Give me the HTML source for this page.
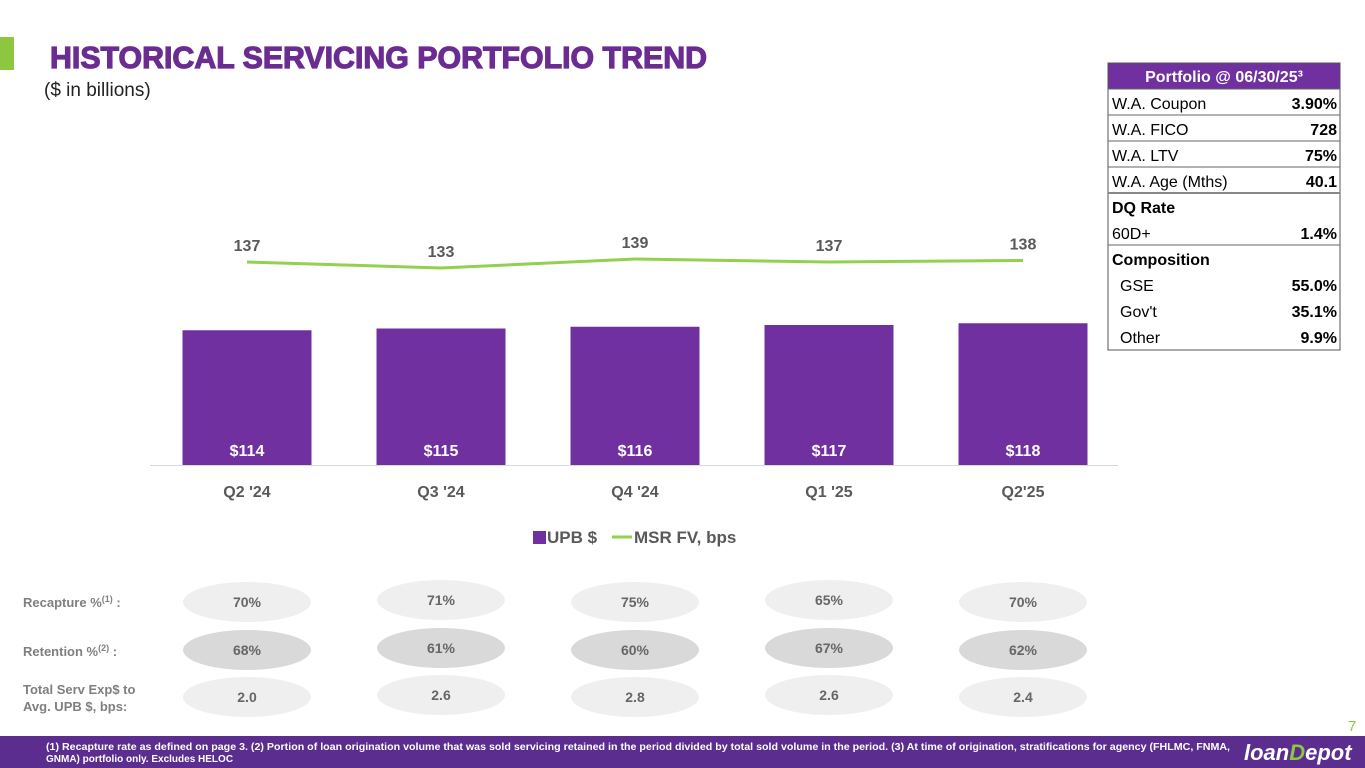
<!DOCTYPE html>
<html><head><meta charset="utf-8"><style>
html,body{margin:0;padding:0;background:#fff;}
svg{display:block;font-family:"Liberation Sans",sans-serif;}
</style></head><body>
<svg id="chart" width="1365" height="768" viewBox="0 0 1365 768">
<rect x="0" y="37" width="14" height="33" fill="#8dc63f"/>
<text x="50" y="68" font-size="31" font-weight="bold" fill="#6b2c91" stroke="#6b2c91" stroke-width="1.2" textLength="657" lengthAdjust="spacingAndGlyphs">HISTORICAL SERVICING PORTFOLIO TREND</text>
<text x="44" y="96" font-size="19" fill="#222">($ in billions)</text>
<g id="plot"></g>
<g id="legend">
<rect x="533" y="531" width="13" height="13" fill="#7030a0"/>
<text x="547" y="543" font-size="17" font-weight="bold" fill="#595959">UPB $</text>
<line x1="612" y1="537" x2="632" y2="537" stroke="#92d050" stroke-width="3"/>
<text x="634" y="543" font-size="17" font-weight="bold" fill="#595959">MSR FV, bps</text>
</g>
<g fill="#7f7f7f" font-size="13" font-weight="bold">
<text x="23" y="607">Recapture %<tspan font-size="9" dy="-5">(1)</tspan><tspan dy="5"> :</tspan></text>
<text x="23" y="656">Retention %<tspan font-size="9" dy="-5">(2)</tspan><tspan dy="5"> :</tspan></text>
<text x="23" y="694">Total Serv Exp$ to</text>
<text x="23" y="711">Avg. UPB $, bps:</text>
</g>
<g id="ovals"></g>
<g font-family="'Liberation Sans',sans-serif">
<rect x="1108" y="63" width="232" height="26" fill="#7030a0"/>
<text x="1224" y="82" font-size="16" font-weight="bold" fill="#fff" text-anchor="middle">Portfolio @ 06/30/25³</text>
<rect x="1108" y="63" width="232" height="287" fill="none" stroke="#555" stroke-width="1"/>
<g id="trows"></g>
</g>
<text x="1348" y="731" font-size="15" fill="#8dc63f">7</text>
<rect x="0" y="736" width="1365" height="32" fill="#5b2d8e"/>
<text x="46" y="750" font-size="10" font-weight="bold" fill="#fff" textLength="1184" lengthAdjust="spacingAndGlyphs">(1) Recapture rate as defined on page 3. (2) Portion of loan origination volume that was sold servicing retained in the period divided by total sold volume in the period. (3) At time of origination, stratifications for agency (FHLMC, FNMA,</text>
<text x="46" y="762" font-size="10" font-weight="bold" fill="#fff">GNMA) portfolio only. Excludes HELOC</text>
<text x="1244" y="760" font-size="22" font-weight="bold" font-style="italic" fill="#fff">loan<tspan fill="#8dc63f">D</tspan>epot</text>
</svg>
<script>
const categories=["Q2 '24","Q3 '24","Q4 '24","Q1 '25","Q2'25"];
const upbValues=[114,115,116,117,118];
const msrValues=[137,133,139,137,138];
const recapture=["70%","71%","75%","65%","70%"];
const retention=["68%","61%","60%","67%","62%"];
const servExp=["2.0","2.6","2.8","2.6","2.4"];
const tableLabels=["W.A. Coupon","W.A. FICO","W.A. LTV","W.A. Age (Mths)","DQ Rate","60D+","Composition","  GSE","  Gov't","  Other"];
const tableValues=["3.90%","728","75%","40.1","","1.4%","","55.0%","35.1%","9.9%"];

const NS="http://www.w3.org/2000/svg";
function mk(tag,attrs,parent,txt){const e=document.createElementNS(NS,tag);for(const k in attrs)e.setAttribute(k,attrs[k]);if(txt!==undefined)e.textContent=txt;parent.appendChild(e);return e;}
const xC=i=>247+i*194;
const yBar=v=>465-(v-37)*1.75;
const yLine=v=>262-(v-137)*1.5;
const plot=document.getElementById('plot');
const ax=mk('line',{x1:150,y1:465.5,x2:1118,y2:465.5,stroke:'#d9d9d9'},plot);


upbValues.forEach((v,i)=>{
  const r=mk('rect',{x:xC(i)-64.5,y:yBar(v),width:129,height:465-yBar(v),fill:'#7030a0'},plot);
  
  
  const t=mk('text',{x:xC(i),y:456,'font-size':16,'font-weight':'bold',fill:'#fff','text-anchor':'middle'},plot,'$'+v);
  
  
  const c=mk('text',{x:xC(i),y:497,'font-size':16,'font-weight':'bold',fill:'#595959','text-anchor':'middle'},plot,categories[i]);
  
  
});
const pts=msrValues.map((v,i)=>xC(i)+','+yLine(v)).join(' ');
const pl=mk('polyline',{points:pts,fill:'none',stroke:'#92d050','stroke-width':3},plot);


msrValues.forEach((v,i)=>{
  const t=mk('text',{x:xC(i),y:yLine(v)-11,'font-size':16,'font-weight':'bold',fill:'#595959','text-anchor':'middle'},plot,v);
  
  
});
const ov=document.getElementById('ovals');
const rows=[[recapture,602,'#efefef','recapture'],[retention,650,'#d9d9d9','retention'],[servExp,697,'#efefef','serv-exp']];
rows.forEach(([arr,y,col,nm])=>{
  arr.forEach((s,i)=>{
    const yy=y-(i%2?2:0);
    const e=mk('ellipse',{cx:xC(i),cy:yy,rx:64,ry:20,fill:col},ov);
    
    
    const t=mk('text',{x:xC(i),y:yy+5,'font-size':14,'font-weight':'bold',fill:'#666','text-anchor':'middle'},ov,s);
    
    
  });
});
const tr=document.getElementById('trows');
tableLabels.forEach((l,i)=>{
  const y=89+i*26;
  const bold=(l==="DQ Rate"||l==="Composition");
  const sepBold=(i===4);
  if(i<5||i===6){const ln=mk('line',{x1:1108,y1:y,x2:1340,y2:y,stroke:sepBold?'#888':'#666','stroke-width':sepBold?2:1},tr);
  
  }
  const t=mk('text',{x:l.startsWith('  ')?1120:1112,y:y+20,'font-size':16,'font-weight':bold?'bold':'normal',fill:'#000'},tr,l.trim());
  
  
  if(tableValues[i]){const v=mk('text',{x:1337,y:y+20,'font-size':16,'font-weight':'bold',fill:'#000','text-anchor':'end'},tr,tableValues[i]);
  
  }
});
</script>
</body></html>
